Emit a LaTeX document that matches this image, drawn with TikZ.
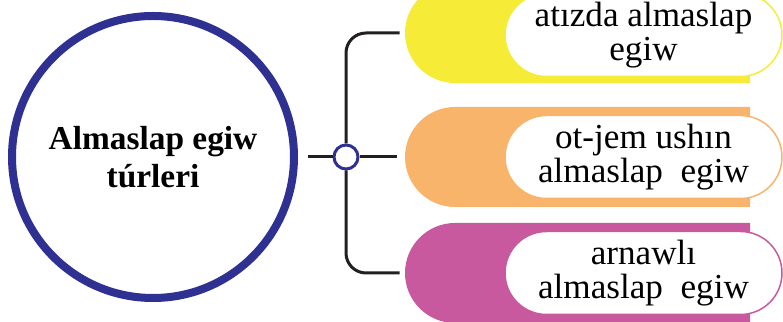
\documentclass[tikz,border=0pt]{standalone}
\usepackage{fontspec}
\setmainfont{Liberation Serif}
\usepackage{xcolor}
\definecolor{mkblue}{RGB}{46,49,146}
\definecolor{mkyellow}{RGB}{246,236,56}
\definecolor{mkorange}{RGB}{249,180,108}
\definecolor{mkpink}{RGB}{201,89,158}
\definecolor{mkline}{RGB}{35,31,32}
\usetikzlibrary{positioning, shapes.misc, calc}

\tikzset{
  titlecircle/.style={circle, draw=mkblue, line width=0.16cm, fill=white, minimum size=5.64cm, inner sep=0pt,
    font=\fontsize{19}{21.5}\selectfont\bfseries, align=center},
  hubdot/.style={circle, draw=mkblue, line width=0.06cm, fill=white, minimum size=0.48cm, inner sep=0pt},
  conn/.style={draw=mkline, line width=0.06cm},
  tab/.style={rounded rectangle, rounded rectangle right arc=none, fill=#1, draw=none,
    minimum width=6.9cm, minimum height=2.0cm, inner sep=0pt},
  label/.style={rounded rectangle, fill=white, draw=#1, line width=0.03cm,
    minimum width=5.54cm, minimum height=1.66cm, inner sep=0pt,
    font=\fontsize{20}{19.5}\selectfont, align=center}
}

\begin{document}
\begin{tikzpicture}
  \path[use as bounding box, clip] (0,0) rectangle (15.66,6.44);

  % --- Left: title circle ---
  \node[titlecircle] (title) at (3.06,3.30) {Almaslap egiw\\túrleri};

  % --- Centre: hub ---
  \node[hubdot] (hub) at (6.92,3.30) {};

  % --- Right: coloured tabs ---
  \node[tab=mkyellow] (tabA) at (11.55,5.78) {};
  \node[tab=mkorange] (tabB) at (11.55,3.30) {};
  \node[tab=mkpink]   (tabC) at (11.55,0.98) {};

  \node[label=mkyellow] (labA) at (12.87,5.74) {atızda almaslap\\egiw};
  \node[label=mkorange] (labB) at (12.87,3.30) {ot-jem ushın\\almaslap~~egiw};
  \node[label=mkpink]   (labC) at (12.87,0.98) {arnawlı\\almaslap~~egiw};

  % connectors
  \draw[conn, shorten <=0.2cm] (title.east) -- (hub.west);
  \draw[conn, shorten >=0.16cm] (hub.east) -- (tabB.west);
  \draw[conn, rounded corners=0.4cm, shorten <=0.1cm] (tabA.west) -| (hub.north);
  \draw[conn, rounded corners=0.4cm, shorten >=0.1cm] (hub.south) |- (tabC.west);
\end{tikzpicture}
\end{document}
